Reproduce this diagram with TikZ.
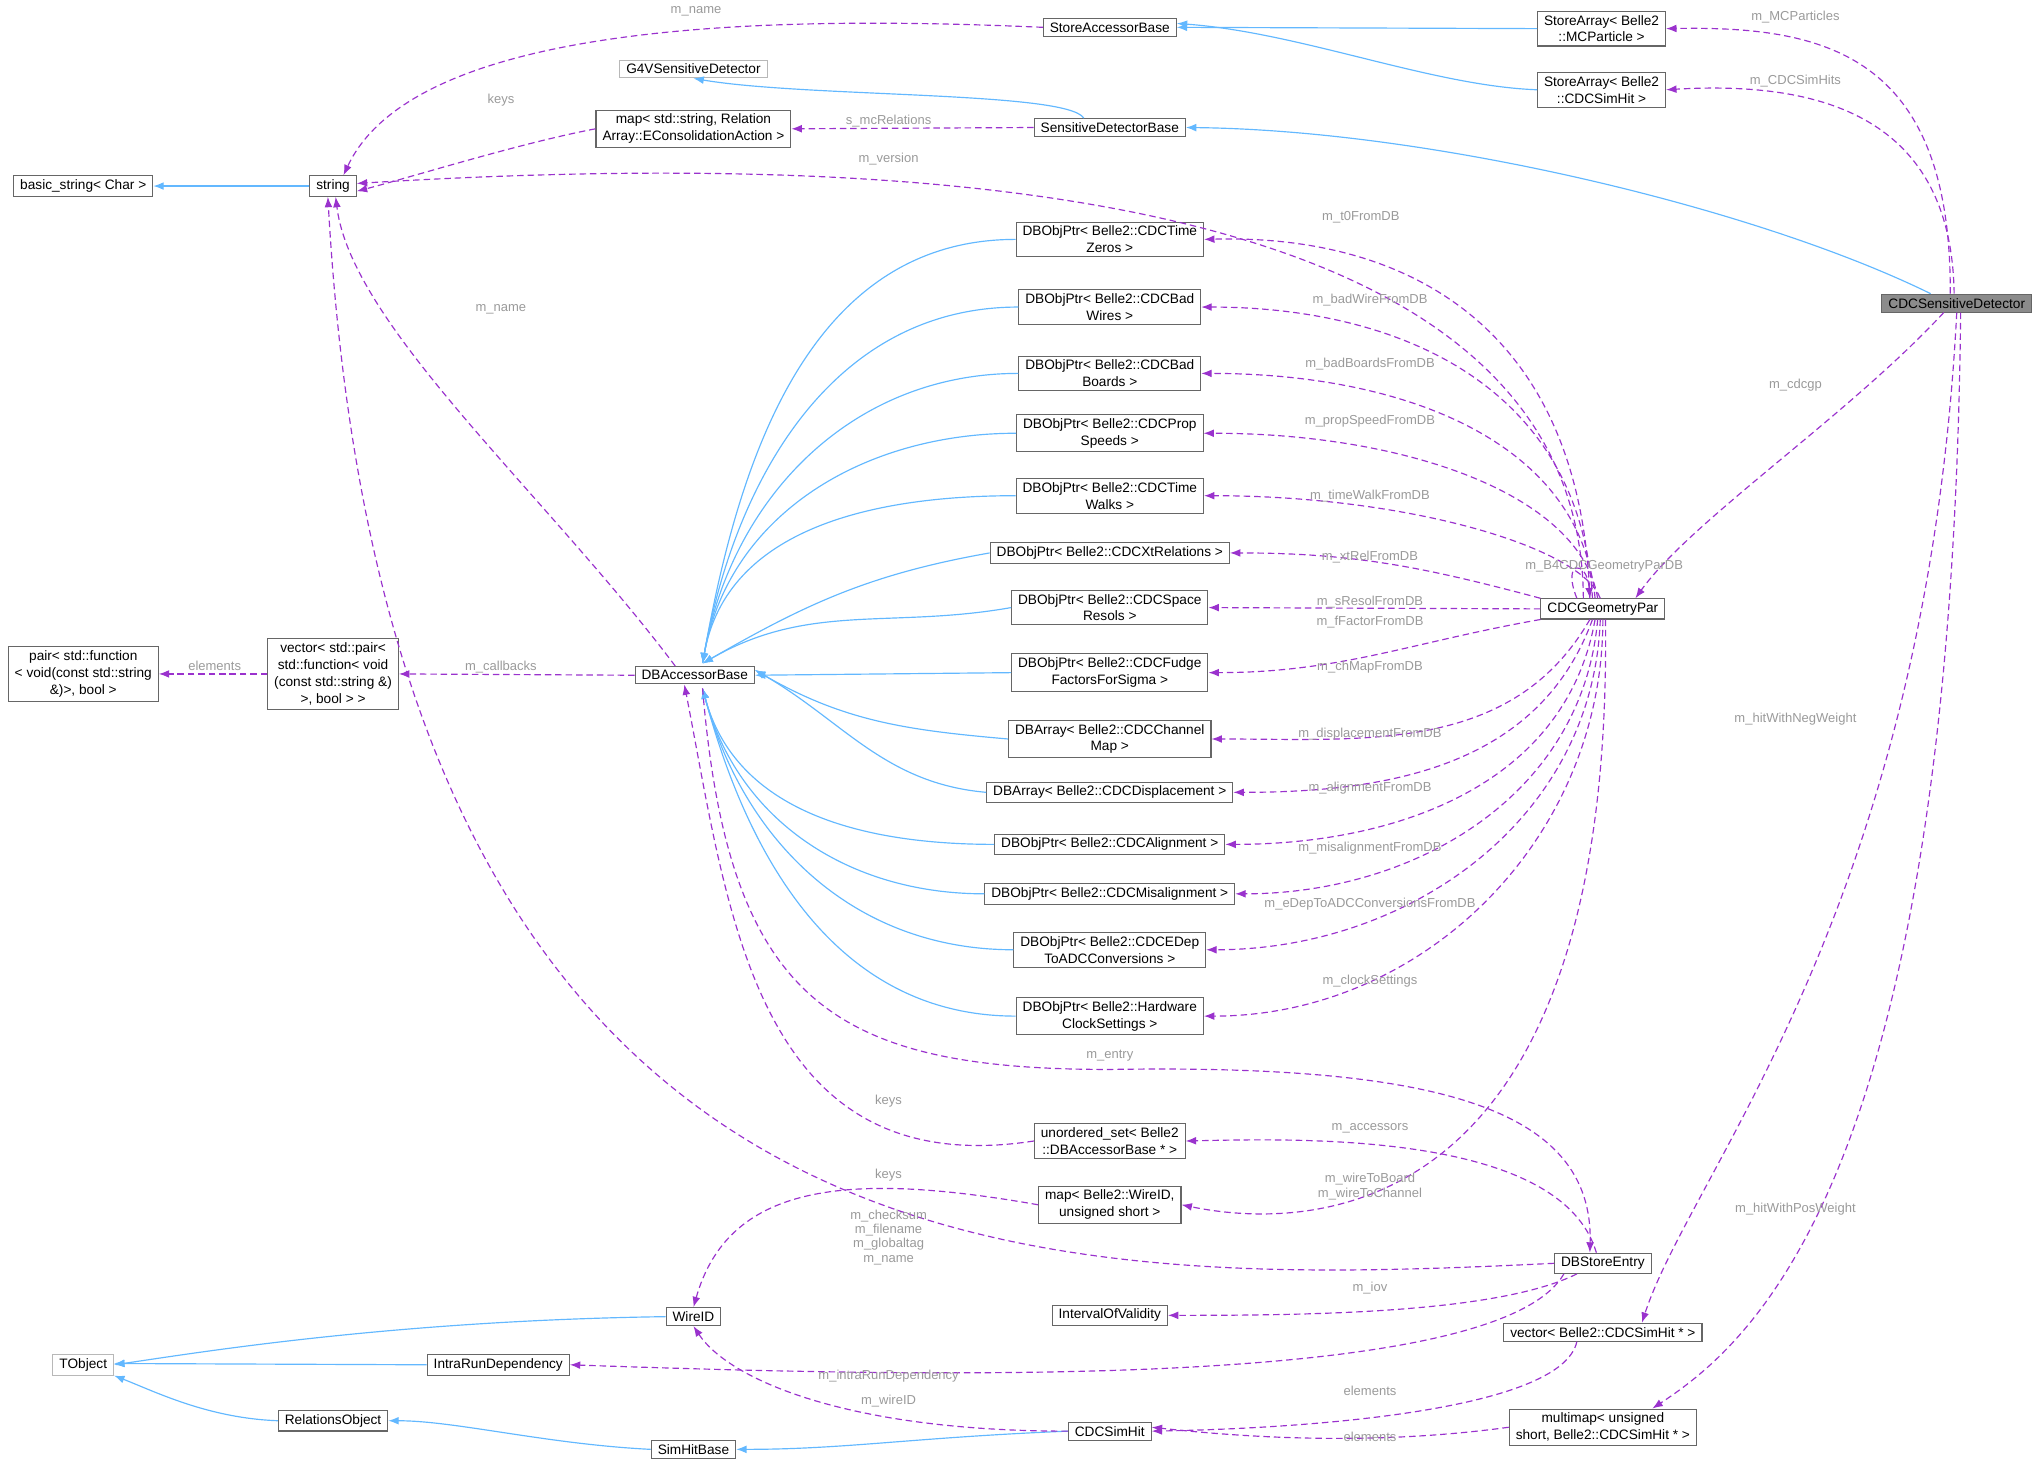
\documentclass[tikz,border=0pt]{standalone}
\usepackage{fontspec}
\setmainfont{Liberation Sans}
\usetikzlibrary{arrows.meta}
\definecolor{inh}{HTML}{63B8FF}
\definecolor{use}{HTML}{9A32CD}
\definecolor{lab}{HTML}{9A9A9A}
\definecolor{bd}{HTML}{666666}
\begin{document}
\begin{tikzpicture}[x=1pt,y=-1pt,
 every node/.style={font=\fontsize{10.5}{13}\selectfont},
 cls/.style={draw=bd,line width=0.8pt,fill=white,inner xsep=5pt,inner ysep=3pt,align=center},
 ext/.style={cls,draw=lab!70},
 inh/.style={draw=inh,line width=0.9pt,-{Latex[length=8pt,width=6pt]}},
 use/.style={draw=use,line width=0.9pt,dashed,dash pattern=on 5pt off 3pt,-{Latex[length=8pt,width=6pt]}},
 lbl/.style={text=lab,align=center,inner sep=0pt,font=\fontsize{10}{11}\selectfont}]
\useasboundingbox (0,0) rectangle (1568,1128);
% nodes
\node[cls] (sab) at (853,21) {StoreAccessorBase};
\node[cls] (sam) at (1231,22) {StoreArray< Belle2\\::MCParticle >};
\node[cls] (ssh) at (1231,69) {StoreArray< Belle2\\::CDCSimHit >};
\node[ext] (g4) at (533,53) {G4VSensitiveDetector};
\node[cls] (sdb) at (853,98) {SensitiveDetectorBase};
\node[cls] (msr) at (533,99) {map< std::string, Relation\\Array::EConsolidationAction >};
\node[cls] (bst) at (64,143) {basic\_string< Char >};
\node[cls] (str) at (256,143) {string};
\node[cls,fill=lab!90!black,draw=bd] (csd) at (1504,233) {CDCSensitiveDetector};
\node[cls] (d1) at (853,184) {DBObjPtr< Belle2::CDCTime\\Zeros >};
\node[cls] (d2) at (853,236) {DBObjPtr< Belle2::CDCBad\\Wires >};
\node[cls] (d3) at (853,287) {DBObjPtr< Belle2::CDCBad\\Boards >};
\node[cls] (d4) at (853,333) {DBObjPtr< Belle2::CDCProp\\Speeds >};
\node[cls] (d5) at (853,381) {DBObjPtr< Belle2::CDCTime\\Walks >};
\node[cls] (d6) at (853,425) {DBObjPtr< Belle2::CDCXtRelations >};
\node[cls] (d7) at (853,467) {DBObjPtr< Belle2::CDCSpace\\Resols >};
\node[cls] (d8) at (853,517) {DBObjPtr< Belle2::CDCFudge\\FactorsForSigma >};
\node[cls] (d9) at (853,568) {DBArray< Belle2::CDCChannel\\Map >};
\node[cls] (d10) at (853,609) {DBArray< Belle2::CDCDisplacement >};
\node[cls] (d11) at (853,649) {DBObjPtr< Belle2::CDCAlignment >};
\node[cls] (d12) at (853,687) {DBObjPtr< Belle2::CDCMisalignment >};
\node[cls] (d13) at (853,730) {DBObjPtr< Belle2::CDCEDep\\ToADCConversions >};
\node[cls] (d14) at (853,781) {DBObjPtr< Belle2::Hardware\\ClockSettings >};
\node[cls] (cgp) at (1232,468) {CDCGeometryPar};
\node[cls] (dba) at (534,519) {DBAccessorBase};
\node[cls] (vec) at (256,518) {vector< std::pair<\\std::function< void\\(const std::string \&)\\>, bool > >};
\node[cls] (pr) at (64,518) {pair< std::function\\< void(const std::string\\\&)>, bool >};
\node[cls] (us) at (853,877) {unordered\_set< Belle2\\::DBAccessorBase * >};
\node[cls] (mw) at (853,926) {map< Belle2::WireID,\\unsigned short >};
\node[cls] (dse) at (1232,971) {DBStoreEntry};
\node[cls] (iov) at (853,1011) {IntervalOfValidity};
\node[cls] (wid) at (533,1012) {WireID};
\node[ext] (tob) at (64,1049) {TObject};
\node[cls] (ird) at (383,1049) {IntraRunDependency};
\node[cls] (vsh) at (1232,1024) {vector< Belle2::CDCSimHit * >};
\node[cls] (ro) at (256,1092) {RelationsObject};
\node[cls] (mm) at (1232,1097) {multimap< unsigned\\ short, Belle2::CDCSimHit * >};
\node[cls] (csh) at (853,1100) {CDCSimHit};
\node[cls] (shb) at (533,1114) {SimHitBase};
% inheritance
\draw[inh] (sam.west) -- (sab.east);
\draw[inh] (ssh.west) .. controls (1100,66) and (1000,25) .. ([yshift=3]sab.east);
\draw[inh] ([xshift=-20]sdb.north) .. controls (820,70) and (620,75) .. (g4.south);
\draw[inh] ([xshift=-20]csd.north) .. controls (1350,160) and (1100,100) .. (sdb.east);
\draw[inh] (str.west) -- (bst.east);
\coordinate (dbt) at (540,510);
\foreach \n in {d1,d2,d3,d4,d5} \draw[inh] (\n.west) to[out=180,in=80] (dbt);
\foreach \n in {d6,d7} \draw[inh] (\n.west) to[out=190,in=30] (dbt);
\foreach \n in {d8} \draw[inh] (\n.west) -- (dba.east);
\foreach \n in {d9,d10} \draw[inh] (\n.west) to[out=175,in=-30] ([yshift=-3]dba.north east);
\coordinate (dbb) at (540,529);
\foreach \n in {d11,d12,d13,d14} \draw[inh] (\n.west) to[out=180,in=-75] (dbb);
\draw[inh] (wid.west) .. controls (300,1015) and (150,1040) .. (tob.east);
\draw[inh] (ird.west) -- ([yshift=1]tob.east);
\draw[inh] (ro.west) .. controls (160,1090) and (120,1070) .. (tob.south east);
\draw[inh] (shb.west) .. controls (420,1110) and (350,1092) .. (ro.east);
\draw[inh] (csh.west) .. controls (700,1105) and (650,1114) .. (shb.east);
% usage
\draw[use] (sab.west) .. controls (600,12) and (320,15) .. ([xshift=8]str.north);
\node[lbl] (l1) at (535,9) {m\_name};
\draw[use] (msr.west) .. controls (400,110) and (320,135) .. ([yshift=-4]str.east);
\node[lbl] (l2) at (385,77) {keys};
\draw[use] (sdb.west) -- (msr.east);
\node[lbl] (l3) at (683,93) {s\_mcRelations};
\draw[use] ([xshift=-15]cgp.north) .. controls (1215,140) and (700,115) .. ([yshift=2]str.east);
\node[lbl] (l4) at (683,122) {m\_version};
\draw[use] ([xshift=-15]dba.north) .. controls (420,380) and (270,250) .. ([xshift=2]str.south);
\node[lbl] (l5) at (385,238) {m\_name};
\draw[use] (dse.west) .. controls (800,990) and (300,1000) .. ([xshift=-4]str.south);
\node[lbl] (l6) at (683,951) {m\_checksum\\m\_filename\\m\_globaltag\\m\_name};
\draw[use] (vec.west) -- (pr.east);
\node[lbl] (l7) at (165,512) {elements};
\draw[use] (dba.west) -- (vec.east);
\node[lbl] (l8) at (385,513) {m\_callbacks};
\draw[use] ([xshift=-5]csd.north) .. controls (1500,40) and (1400,20) .. (sam.east);
\node[lbl] (l9) at (1380,13) {m\_MCParticles};
\draw[use] ([xshift=-2]csd.north) .. controls (1500,90) and (1400,62) .. (ssh.east);
\node[lbl] (l10) at (1380,62) {m\_CDCSimHits};
\draw[use] ([xshift=-10]csd.south) .. controls (1420,320) and (1300,400) .. ([xshift=25]cgp.north);
\node[lbl] (l11) at (1380,296) {m\_cdcgp};
\draw[use] (csd.south) .. controls (1480,700) and (1300,900) .. ([xshift=30]vsh.north);
\node[lbl] (l12) at (1380,553) {m\_hitWithNegWeight};
\draw[use] ([xshift=3]csd.south) .. controls (1500,900) and (1350,1030) .. ([xshift=38]mm.north);
\node[lbl] (l13) at (1380,929) {m\_hitWithPosWeight};
% CDCGeometryPar members
\draw[use] ([xshift=-10]cgp.north) .. controls (1215,250) and (1080,180) .. (d1.east);
\node[lbl] (m1) at (1046,167) {m\_t0FromDB};
\draw[use] ([xshift=-8]cgp.north) .. controls (1215,300) and (1080,236) .. (d2.east);
\node[lbl] (m2) at (1053,231) {m\_badWireFromDB};
\draw[use] ([xshift=-6]cgp.north) .. controls (1215,340) and (1080,287) .. (d3.east);
\node[lbl] (m3) at (1053,280) {m\_badBoardsFromDB};
\draw[use] ([xshift=-4]cgp.north) .. controls (1215,380) and (1080,333) .. (d4.east);
\node[lbl] (m4) at (1053,324) {m\_propSpeedFromDB};
\draw[use] ([xshift=-2]cgp.north) .. controls (1215,420) and (1080,381) .. (d5.east);
\node[lbl] (m5) at (1053,381) {m\_timeWalkFromDB};
\draw[use] (cgp.north west) to[out=165,in=0] (d6.east);
\node[lbl] (m6) at (1053,428) {m\_xtRelFromDB};
\draw[use] (cgp.west) -- (d7.east);
\node[lbl] (m7) at (1053,463) {m\_sResolFromDB};
\draw[use] (cgp.south west) to[out=190,in=0] (d8.east);
\node[lbl] (m8) at (1053,478) {m\_fFactorFromDB};
\draw[use] ([xshift=-10]cgp.south) to[out=-120,in=0] (d9.east);
\node[lbl] (m9) at (1053,513) {m\_chMapFromDB};
\draw[use] ([xshift=-8]cgp.south) to[out=-110,in=0] (d10.east);
\node[lbl] (m10) at (1053,564) {m\_displacementFromDB};
\draw[use] ([xshift=-6]cgp.south) to[out=-100,in=0] (d11.east);
\node[lbl] (m11) at (1053,606) {m\_alignmentFromDB};
\draw[use] ([xshift=-4]cgp.south) to[out=-95,in=0] (d12.east);
\node[lbl] (m12) at (1053,652) {m\_misalignmentFromDB};
\draw[use] ([xshift=-2]cgp.south) to[out=-92,in=0] (d13.east);
\node[lbl] (m13) at (1053,695) {m\_eDepToADCConversionsFromDB};
\draw[use] (cgp.south) to[out=-90,in=0] (d14.east);
\node[lbl] (m14) at (1053,754) {m\_clockSettings};
\draw[use] ([xshift=-20]cgp.north) .. controls (1200,430) and (1220,430) .. ([xshift=-10]cgp.north);
\node[lbl] (m15) at (1233,435) {m\_B4CDCGeometryParDB};
\draw[use] ([xshift=2]cgp.south) .. controls (1240,950) and (1000,945) .. (mw.east);
\node[lbl] (m16) at (1053,912) {m\_wireToBoard\\m\_wireToChannel};
% DB store
\coordinate (ent) at (853,822);
\draw[use] (dbb) .. controls (560,770) and (640,822) .. (ent) .. controls (1100,818) and (1225,850) .. ([xshift=-10]dse.north);
\node[lbl] (n1) at (853,811) {m\_entry};
\draw[use] (us.west) .. controls (580,910) and (560,700) .. ([xshift=-8]dba.south);
\node[lbl] (n2) at (683,846) {keys};
\draw[use] ([xshift=-5]dse.north) .. controls (1200,870) and (1000,875) .. (us.east);
\node[lbl] (n3) at (1053,867) {m\_accessors};
\draw[use] (mw.west) .. controls (650,900) and (560,910) .. (wid.north);
\node[lbl] (n4) at (683,903) {keys};
\draw[use] ([xshift=-20]dse.south) .. controls (1150,1010) and (1000,1011) .. (iov.east);
\node[lbl] (n5) at (1053,990) {m\_iov};
\draw[use] ([xshift=-30]dse.south) .. controls (1150,1070) and (700,1058) .. (ird.east);
\node[lbl] (n6) at (683,1058) {m\_intraRunDependency};
\draw[use] (csh.west) .. controls (650,1100) and (560,1060) .. (wid.south);
\node[lbl] (n7) at (683,1077) {m\_wireID};
\draw[use] ([xshift=-20]vsh.south) .. controls (1200,1085) and (1000,1098) .. (csh.east);
\node[lbl] (n8) at (1053,1069) {elements};
\draw[use] (mm.west) .. controls (1050,1112) and (950,1104) .. ([yshift=3]csh.east);
\node[lbl] (n9) at (1053,1104) {elements};
\end{tikzpicture}
\end{document}
